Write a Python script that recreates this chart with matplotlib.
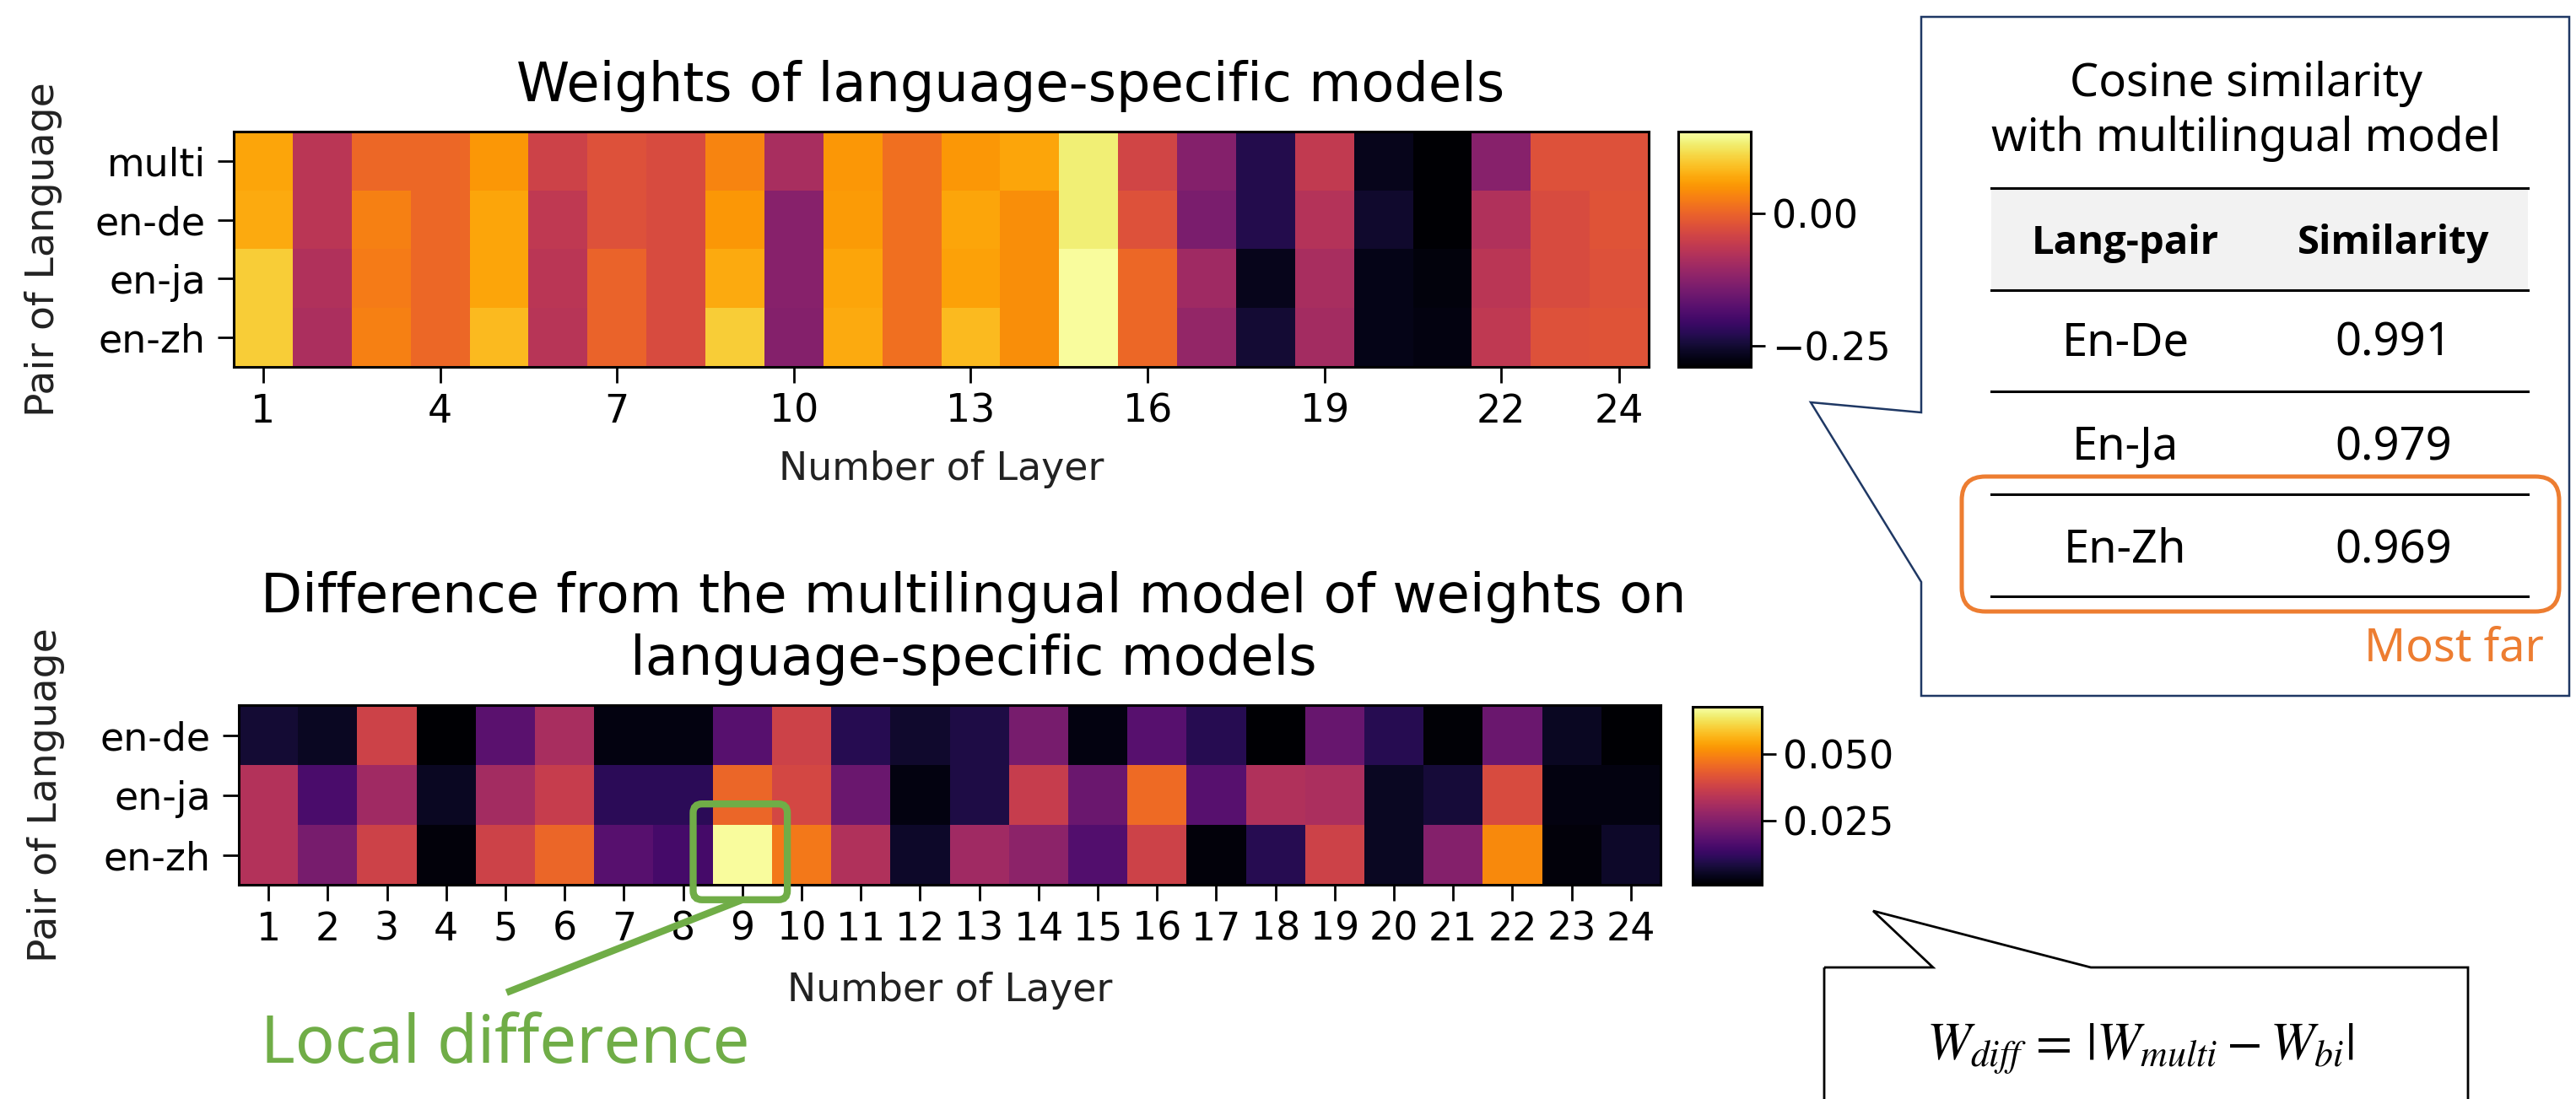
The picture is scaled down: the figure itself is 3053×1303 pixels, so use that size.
import numpy as np
import matplotlib.pyplot as plt
from matplotlib.patches import Polygon, FancyBboxPatch, Rectangle
from matplotlib.ticker import FuncFormatter

plt.rcParams['mathtext.fontset'] = 'stix'

W, H = 3053, 1303

layers = list(range(1, 25))

# weights of language-specific models (top heatmap)
top_rows = ["multi", "en-de", "en-ja", "en-zh"]
w_multi = [0.066, -0.068, 0.004, 0.004, 0.053, -0.045, -0.023, -0.032, 0.035, -0.090, 0.053, 0.013,
           0.053, 0.066, 0.133, -0.041, -0.130, -0.232, -0.059, -0.268, -0.290, -0.125, -0.023, -0.023]
w_en_de = [0.070, -0.068, 0.030, 0.004, 0.066, -0.063, -0.023, -0.032, 0.053, -0.125, 0.057, 0.013,
           0.066, 0.044, 0.133, -0.023, -0.139, -0.232, -0.076, -0.254, -0.290, -0.081, -0.032, -0.019]
w_en_ja = [0.102, -0.081, 0.026, 0.004, 0.066, -0.068, -0.001, -0.032, 0.070, -0.125, 0.066, 0.013,
           0.062, 0.044, 0.151, 0.004, -0.099, -0.268, -0.090, -0.272, -0.281, -0.068, -0.032, -0.023]
w_en_zh = [0.102, -0.085, 0.030, 0.004, 0.084, -0.072, -0.001, -0.032, 0.102, -0.130, 0.070, 0.013,
           0.084, 0.044, 0.151, 0.004, -0.112, -0.250, -0.094, -0.272, -0.277, -0.063, -0.023, -0.019]
top_ticks = [1, 4, 7, 10, 13, 16, 19, 22, 24]

# |W_multi - W_bi| (bottom heatmap)
diff_rows = ["en-de", "en-ja", "en-zh"]
d_en_de = [0.0070, 0.0050, 0.0377, 0.0010, 0.0183, 0.0310, 0.0030, 0.0030, 0.0177, 0.0377, 0.0103, 0.0063,
           0.0090, 0.0230, 0.0030, 0.0177, 0.0103, 0.0010, 0.0203, 0.0103, 0.0017, 0.0210, 0.0050, 0.0010]
d_en_ja = [0.0330, 0.0157, 0.0297, 0.0050, 0.0303, 0.0363, 0.0110, 0.0110, 0.0450, 0.0390, 0.0210, 0.0030,
           0.0090, 0.0363, 0.0210, 0.0457, 0.0177, 0.0323, 0.0317, 0.0050, 0.0077, 0.0397, 0.0030, 0.0030]
d_en_zh = [0.0330, 0.0230, 0.0377, 0.0023, 0.0377, 0.0450, 0.0177, 0.0150, 0.0670, 0.0477, 0.0323, 0.0057,
           0.0297, 0.0263, 0.0170, 0.0377, 0.0023, 0.0103, 0.0377, 0.0050, 0.0250, 0.0504, 0.0023, 0.0057]

# cosine similarity table
sim_pairs = ["En-De", "En-Ja", "En-Zh"]
sim_values = ["0.991", "0.979", "0.969"]

SLIDE_FONT = "Noto Sans"
BOLD_FONT = ["Open Sans", "Lato", "Roboto", "DejaVu Sans"]
GREEN = "#70AD47"
ORANGE = "#ED7D31"
NAVY = "#1F3864"


def rect(l, t, r, b):
    # pixel box (from top-left) -> figure fraction
    return [l / W, 1 - b / H, (r - l) / W, (b - t) / H]


def minus_fmt(fmt):
    return FuncFormatter(lambda v, p: (fmt % v).replace('-', '\u2212'))


def heatmap(ax, cax, data, rows, vmin, vmax, xticks, cticks, cfmt, ylab_x, xpad):
    x = np.arange(len(layers) + 1) + 0.5
    y = np.arange(len(rows) + 1) - 0.5
    mesh = ax.pcolormesh(x, y, data, cmap='inferno', vmin=vmin, vmax=vmax)
    ax.set_xlim(0.5, len(layers) + 0.5)
    ax.set_ylim(len(rows) - 0.5, -0.5)
    ax.set_yticks(range(len(rows)), rows)
    ax.set_xticks(xticks)
    ax.tick_params(axis='x', labelsize=33, length=14, width=2, pad=8)
    ax.tick_params(axis='y', labelsize=33, length=14, width=2, pad=10)
    for s in ax.spines.values():
        s.set_linewidth(2.2)
    ax.set_xlabel("Number of Layer", fontsize=33, labelpad=xpad, color='#222222')
    ax.set_ylabel("Pair of Language", fontsize=34, color='#222222')
    ax.yaxis.set_label_coords(ylab_x, 0.5)
    cb = fig.colorbar(mesh, cax=cax, ticks=cticks, format=minus_fmt(cfmt))
    cb.ax.tick_params(labelsize=33, length=12, width=2, pad=6)
    cb.outline.set_linewidth(2.2)
    return mesh


fig = plt.figure(figsize=(W / 100, H / 100), dpi=100)

ax1 = fig.add_axes(rect(277, 156, 1954, 435))
cax1 = fig.add_axes(rect(1989, 156, 2075, 435))
heatmap(ax1, cax1, np.array([w_multi, w_en_de, w_en_ja, w_en_zh]), top_rows,
        -0.29, 0.155, top_ticks, [-0.25, 0.0], '%.2f', -0.121, 17)
ax1.set_title("Weights of language-specific models", fontsize=46, pad=26, x=0.549)

ax2 = fig.add_axes(rect(283, 836, 1968, 1049))
cax2 = fig.add_axes(rect(2006, 838, 2088, 1049))
heatmap(ax2, cax2, np.array([d_en_de, d_en_ja, d_en_zh]), diff_rows,
        0.001, 0.0677, layers, [0.025, 0.050], '%.3f', -0.122, 20)
ax2.set_title("Difference from the multilingual model of weights on\nlanguage-specific models",
              fontsize=46, pad=26, x=0.517, linespacing=1.25)

# local difference marker around layer 9 / en-zh
ax2.add_patch(FancyBboxPatch((8.17, 1.15), 1.59, 1.6, boxstyle="round,pad=0,rounding_size=0.15",
                             fill=False, edgecolor=GREEN, linewidth=6, clip_on=False, zorder=5))
ax2.plot([9.0, 5.02], [2.75, 4.30], color=GREEN, linewidth=6, clip_on=False, zorder=5,
         solid_capstyle='butt')

# overlay in pixel coordinates for slide annotations
ov = fig.add_axes([0, 0, 1, 1])
ov.set_xlim(0, W)
ov.set_ylim(H, 0)
ov.axis('off')
ov.patch.set_alpha(0)
ov.set_zorder(10)

ov.text(309, 1260, "Local difference", fontsize=56, color=GREEN, family=SLIDE_FONT,
        ha='left', va='baseline')

# similarity callout
ov.add_patch(Polygon([(2277, 20), (3045, 20), (3045, 825), (2277, 825), (2277, 690),
                      (2146, 477), (2277, 489)], closed=True, fill=False,
                     edgecolor=NAVY, linewidth=1.8))
ov.text(2662, 114, "Cosine similarity", fontsize=39, family=SLIDE_FONT, ha='center', va='baseline')
ov.text(2662, 179, "with multilingual model", fontsize=39, family=SLIDE_FONT, ha='center', va='baseline')

tbl_l, tbl_r = 2360, 2996
col_x = [2519, 2837]
ov.add_patch(Rectangle((tbl_l, 223), tbl_r - tbl_l, 121, facecolor='#F2F2F2', edgecolor='none'))
for yy in [223, 344, 464, 586, 707]:
    ov.plot([tbl_l, tbl_r], [yy, yy], color='black', linewidth=2.2)
ov.text(col_x[0], 301, "Lang-pair", fontsize=34, fontweight='bold', family=BOLD_FONT,
        ha='center', va='baseline')
ov.text(col_x[1], 301, "Similarity", fontsize=34, fontweight='bold', family=BOLD_FONT,
        ha='center', va='baseline')
for i, (p, v) in enumerate(zip(sim_pairs, sim_values)):
    yb = [422, 545, 667][i]
    ov.text(col_x[0], yb, p, fontsize=39, family=SLIDE_FONT, ha='center', va='baseline')
    ov.text(col_x[1], yb, v, fontsize=39, family=SLIDE_FONT, ha='center', va='baseline')

ov.add_patch(FancyBboxPatch((2325, 565), 708, 160, boxstyle="round,pad=0,rounding_size=28",
                            fill=False, edgecolor=ORANGE, linewidth=3.6))
ov.text(3015, 783, "Most far", fontsize=39, color=ORANGE, family=SLIDE_FONT,
        ha='right', va='baseline')

# formula callout
ov.add_patch(Polygon([(2162, 1147), (2291, 1147), (2220, 1080), (2478, 1147), (2925, 1147),
                      (2925, 1340), (2162, 1340)], closed=True, fill=False,
                     edgecolor='black', linewidth=2, clip_on=False))
ov.text(2536, 1257, r'$W_{diff}\,=\,|W_{multi}-W_{bi}|$', fontsize=45, ha='center', va='baseline')

fig.savefig("out.png", dpi=100, facecolor='white')
